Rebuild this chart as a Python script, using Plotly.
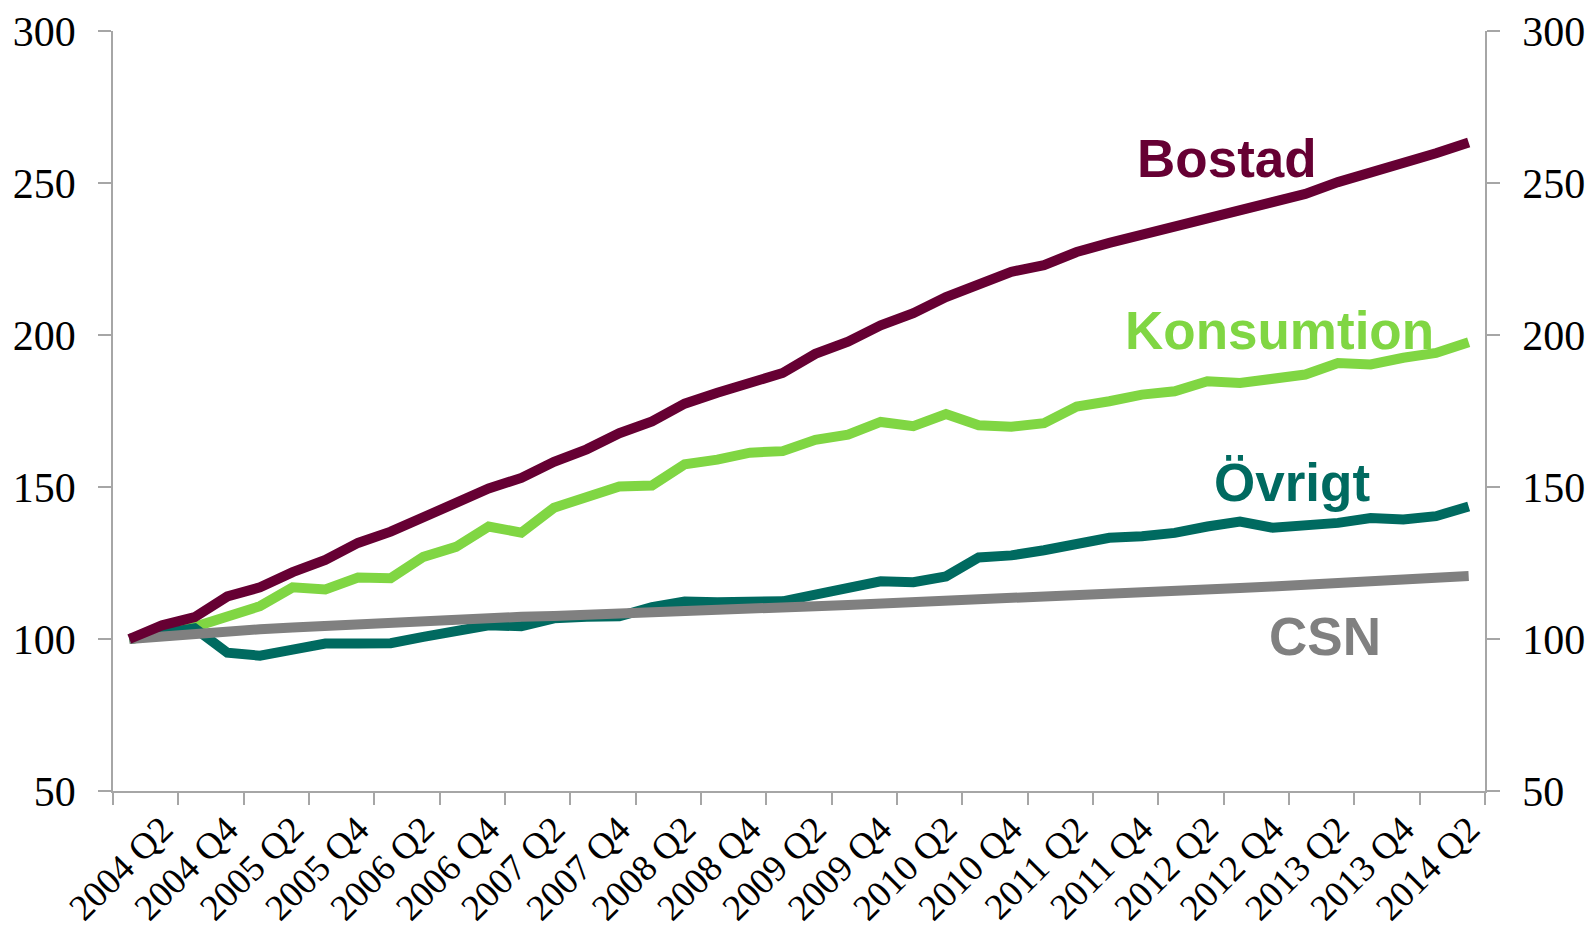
import plotly.graph_objects as go

quarters = [
    "2004 Q1", "2004 Q2", "2004 Q3", "2004 Q4",
    "2005 Q1", "2005 Q2", "2005 Q3", "2005 Q4",
    "2006 Q1", "2006 Q2", "2006 Q3", "2006 Q4",
    "2007 Q1", "2007 Q2", "2007 Q3", "2007 Q4",
    "2008 Q1", "2008 Q2", "2008 Q3", "2008 Q4",
    "2009 Q1", "2009 Q2", "2009 Q3", "2009 Q4",
    "2010 Q1", "2010 Q2", "2010 Q3", "2010 Q4",
    "2011 Q1", "2011 Q2", "2011 Q3", "2011 Q4",
    "2012 Q1", "2012 Q2", "2012 Q3", "2012 Q4",
    "2013 Q1", "2013 Q2", "2013 Q3", "2013 Q4",
    "2014 Q1", "2014 Q2",
]

bostad = [100, 104.5, 107.2, 114, 117, 122, 126, 131.6, 135.3, 140.2,
          144.2, 149.5, 153, 158.3, 162.4, 167.7, 171.6, 177.4, 181, 184.3,
          187.5, 193.8, 197.8, 203.2, 207.2, 212.5, 216.4, 220.8, 223, 227.3,
          230.3, 233, 235.2, 238.4, 241.2, 244, 246.4, 250.3, 253.2, 256.8,
          259.8, 263.3]

konsumtion = [100, 101.5, 104, 107.5, 110.8, 117, 116.3, 120.2, 120, 127,
              130.3, 137, 135, 143.2, 146.5, 150.2, 150.5, 157.5, 159, 161.3,
              161.8, 165.5, 167.2, 171.4, 170, 174, 170.3, 169.8, 171, 176.5,
              178.2, 180.4, 181.5, 184.8, 184.2, 185.3, 187, 190.8, 190.3, 192.5,
              194.1, 197.6]

ovrigt = [100, 101.8, 103.5, 95.5, 94.5, 96.5, 98.5, 98.5, 98.6, 100.7,
          102.5, 104.5, 104.2, 106.8, 107.3, 107.5, 110.5, 112.3, 112.1, 112,
          112.4, 114.6, 116.8, 119, 118.7, 120.6, 126.8, 127.5, 129.2, 131.2,
          133.3, 133.8, 134.9, 137, 138.6, 136.6, 137, 138.2, 139.8, 139.3,
          140.4, 143.6]

csn = [100, 101, 101.8, 102.5, 103.2, 103.8, 104.4, 105, 105.5, 106,
       106.6, 107, 107.3, 107.6, 107.9, 108.3, 108.7, 109.1, 109.5, 109.9,
       110.4, 110.8, 111.2, 111.6, 112, 112.4, 113, 113.6, 114.1, 114.6,
       115, 115.5, 116, 116.4, 116.8, 117.3, 117.8, 118.3, 118.7, 119.3,
       120, 120.7]

series_names = ["Konsumtion", "Övrigt", "CSN", "Bostad"]
series_values = [konsumtion, ovrigt, csn, bostad]
series_colors = ["#80D643", "#006A60", "#808080", "#660033"]

y_ticks = [50, 100, 150, 200, 250, 300]

x_idx = list(range(len(quarters)))
label_idx = [i for i, q in enumerate(quarters) if q.endswith("Q2") or q.endswith("Q4")]
label_text = [quarters[i] for i in label_idx]
boundaries = [i - 0.5 for i in x_idx if i % 2 == 0] + [len(quarters) - 0.5]

axis_grey = "#A6A6A6"
tick_font = dict(family="Liberation Serif", size=42, color="#000000")

fig = go.Figure()
for name, vals, col in zip(series_names, series_values, series_colors):
    fig.add_trace(go.Scatter(
        x=x_idx, y=vals, name=name, mode="lines",
        line=dict(color=col, width=10),
        yaxis="y", hoverinfo="skip",
    ))

# invisible trace for the right axis
fig.add_trace(go.Scatter(x=[x_idx[0]], y=[y_ticks[0]], yaxis="y2", mode="markers",
                         marker=dict(opacity=0), showlegend=False, hoverinfo="skip"))

label_pos = {
    "Bostad": (33.6, 258.0),
    "Konsumtion": (35.2, 201.5),
    "Övrigt": (35.6, 151.5),
    "CSN": (36.6, 100.8),
}
for name, col in zip(series_names, series_colors):
    lx, ly = label_pos[name]
    fig.add_annotation(x=lx, y=ly, xref="x", yref="y", text=name, showarrow=False,
                       xanchor="center", yanchor="middle",
                       font=dict(family="Liberation Sans", size=53, color=col, weight="bold"))

fig.update_layout(
    width=1591, height=929,
    margin=dict(l=113, r=106, t=31, b=138, pad=0),
    paper_bgcolor="white", plot_bgcolor="white",
    showlegend=False,
    xaxis=dict(
        range=[-0.5, len(quarters) - 0.5], automargin=False,
        tickmode="array", tickvals=label_idx, ticktext=label_text,
        tickangle=-45, ticks="", tickfont=dict(family="Liberation Serif", size=37, color="#000000"),
        showline=True, linecolor=axis_grey, linewidth=1.5,
        showgrid=False, zeroline=False,
        minor=dict(tickmode="array", tickvals=boundaries, ticks="outside",
                   ticklen=12, tickwidth=1.5, tickcolor=axis_grey, showgrid=False),
    ),
    yaxis=dict(
        range=[50, 300], tickmode="array", tickvals=y_ticks, automargin=False,
        ticks="outside", ticklen=13, tickwidth=1.5, tickcolor=axis_grey,
        showline=True, linecolor=axis_grey, linewidth=1.5,
        showgrid=False, zeroline=False, tickfont=tick_font,
        ticklabelstandoff=14,
    ),
    yaxis2=dict(
        range=[50, 300], tickmode="array", tickvals=y_ticks, automargin=False,
        overlaying="y", side="right",
        ticks="outside", ticklen=13, tickwidth=1.5, tickcolor=axis_grey,
        showline=True, linecolor=axis_grey, linewidth=1.5,
        showgrid=False, zeroline=False, tickfont=tick_font,
        ticklabelstandoff=14,
    ),
)

fig.write_html("out.html", config={"displayModeBar": False},
               post_script="document.body.style.margin='0';")
